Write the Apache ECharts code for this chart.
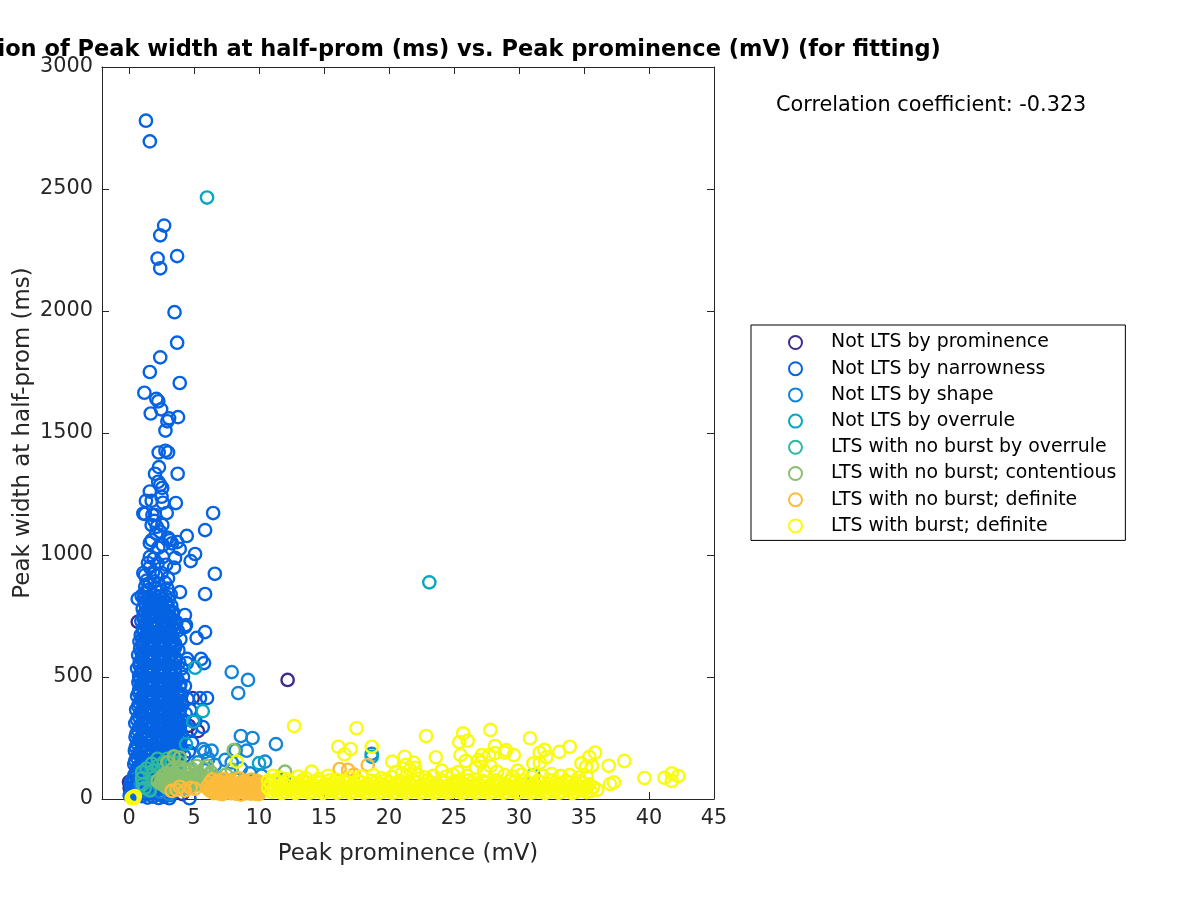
<!DOCTYPE html>
<html><head><meta charset="utf-8">
<style>html,body{margin:0;padding:0;background:#fff}#c{width:1200px;height:900px}</style>
<script src="https://cdn.jsdelivr.net/npm/echarts@6/dist/echarts.min.js"></script>
</head><body><div id="c"></div>
<script>
const xTickValues=[0,5,10,15,20,25,30,35,40,45];
const yTickValues=[0,500,1000,1500,2000,2500,3000];
const seriesNames=["Not LTS by prominence","Not LTS by narrowness","Not LTS by shape","Not LTS by overrule","LTS with no burst by overrule","LTS with no burst; contentious","LTS with no burst; definite","LTS with burst; definite"];
const seriesColors=["#3f2b8e","#0563e3","#1285d9","#07a6c4","#30b7a0","#88bf6e","#fcbc3c","#f9fb0e"];

const notLtsProminence=[[12.2,488],[0.67,726],[4.9,414],[5.3,278],[4.6,300],[0.05,45],[0,70],[0.1,25],[4.1,20]];

const notLtsNarrowness=[
[1.3,2780],[1.6,2695],[2.7,2350],[2.4,2310],[3.7,2225],[2.2,2215],[2.4,2175],[3.5,1995],[3.7,1870],[2.4,1810],[1.6,1750],[3.9,1705],
[1.18,1665],[2.1,1640],[2.25,1630],[2.47,1597],[1.67,1580],[3.08,1560],[3.77,1565],[2.95,1548],[2.8,1510],[2.28,1420],[2.8,1427],[3,1420],[2.3,1360],[2,1333],[3.74,1333],[2.24,1300],[2.4,1287],[2.55,1275],[1.6,1260],[2.5,1239],[1.3,1222],[1.74,1222],[2.6,1214],[3.6,1213],[1.1,1170],[1.23,1168],[2.9,1172],[1.8,1164],[2,1164],[6.47,1172],[5.85,1102],[1.74,1123],[2.13,1116],[2.56,1123],[2.1,1088],[2.4,1095],[1.95,1140],[4.44,1078],[3,1070],[3.7,1053],[3.9,1025],[1.6,1049],[1.74,1061],[2.6,1041],[3.15,1061],[3.3,1048],[2.25,1030],[5.08,1004],[4.74,975],[6.6,923],[5.85,840],[3.92,848],[3.46,948],[3.54,988],[2.6,992],[1.6,992],[1.46,967],[1.6,950],[2.5,926],[1.23,918],[1.1,926],[0.67,820],[0.97,832],
[1.9,985],[2.2,965],[2.85,960],[1.85,930],[2.1,915],[3,905],[1.35,895],[1.6,885],[1.95,892],[2.3,880],[2.75,888],[1.25,870],[1.55,858],[2.05,862],[2.5,855],[2.95,862],[3.2,838],[1.2,845],
[4.3,754],[4.38,713],[4.3,705],[5.2,660],[5.85,684],[3.8,610],[4.47,574],[5.54,574],[5.77,557],[4.44,557],[4.3,463],[5.46,414],[6,414],[4.7,365],[5.67,295],[5.1,320],[4.5,410],[4.85,230],[3.95,655],[3.65,725],[3.75,690],[3.85,560],[4.05,535],[4.15,500],[3.95,470],[4.05,430],[4.1,385],[4.35,350],[4.2,320],[4.75,285],
[1.15,825],[1.55,830],[1.95,835],[2.4,828],[2.8,832],[3.05,815],
[1.2,805],[1.62,800],[2.02,808],[2.45,798],[2.85,805],[3.25,792],
[1.05,780],[1.4,775],[1.82,782],[2.25,772],[2.66,779],[3.06,770],[3.4,765],
[1.12,752],[1.58,748],[2,755],[2.4,746],[2.82,752],[3.22,742],
[0.95,728],[1.32,722],[1.75,730],[2.18,720],[2.6,726],[3,718],[3.42,722],
[1.08,700],[1.5,695],[1.92,702],[2.35,692],[2.76,699],[3.18,690],[3.5,696],
[0.9,672],[1.28,668],[1.7,675],[2.12,665],[2.55,671],[2.96,663],[3.35,668],
[0.8,645],[1.05,640],[1.48,648],[1.9,638],[2.32,644],[2.74,636],[3.15,642],[3.55,635],
[0.85,618],[1.25,612],[1.68,620],[2.1,610],[2.52,616],[2.94,609],[3.35,614],
[0.7,590],[1.02,588],[1.45,593],[1.88,584],[2.3,589],[2.72,582],[3.14,587],[3.52,582],
[0.82,562],[1.22,558],[1.65,565],[2.08,556],[2.5,561],[2.92,554],[3.34,559],
[0.62,535],[1.0,532],[1.42,537],[1.85,528],[2.28,534],[2.7,526],[3.12,531],[3.55,526],
[0.78,506],[1.2,503],[1.62,509],[2.05,500],[2.48,505],[2.9,498],[3.32,503],
[0.72,478],[1.0,476],[1.42,481],[1.85,472],[2.25,477],[2.68,470],[3.1,475],[3.55,470],
[0.78,450],[1.2,447],[1.62,453],[2.02,444],[2.45,449],[2.88,442],[3.3,447],[3.7,440],
[0.62,422],[1,420],[1.42,425],[1.82,416],[2.25,421],[2.66,414],[3.08,419],[3.5,412],[3.85,418],
[0.78,394],[1.2,392],[1.6,397],[2.02,388],[2.45,393],[2.86,386],[3.28,391],[3.7,384],
[0.55,366],[0.98,364],[1.4,369],[1.82,360],[2.22,365],[2.65,358],[3.06,363],[3.5,356],[3.9,360],
[0.75,338],[1.18,336],[1.6,341],[2,332],[2.42,337],[2.85,330],[3.26,335],[3.7,328],
[0.48,310],[0.95,308],[1.38,313],[1.8,304],[2.2,309],[2.62,302],[3.05,307],[3.48,300],[3.88,305],
[0.7,282],[1.15,280],[1.58,285],[1.98,276],[2.4,281],[2.82,274],[3.25,279],[3.68,272],
[0.5,254],[0.92,252],[1.35,257],[1.78,248],[2.18,253],[2.6,246],[3.02,251],[3.45,244],[3.85,250],
[0.65,226],[1.12,224],[1.55,229],[1.95,220],[2.38,225],[2.8,218],[3.22,223],[3.65,216],
[0.45,198],[0.88,196],[1.32,201],[1.75,192],[2.15,197],[2.58,190],[3,195],[3.42,188],[3.8,194],
[0.6,170],[1.08,168],[1.52,173],[1.92,164],[2.35,169],[2.78,162],[3.2,167],[3.6,160],
[0.4,142],[0.85,140],[1.28,145],[1.72,136],[2.12,141],[2.55,134],[2.98,139],[3.4,132],
[0.55,114],[1.05,112],[1.48,117],[1.9,108],[2.32,113],[2.75,106],[3.18,111],
[0.35,86],[0.8,84],[1.25,89],[1.68,80],[2.1,85],[2.52,78],[2.95,83],[3.38,76],
[0.12,62],[0.55,60],[1,58],[1.45,63],[1.88,54],[2.3,59],[2.72,52],[3.15,57],
[0.3,36],[0.75,34],[1.22,38],[1.65,29],[2.08,34],[2.5,27],[2.92,32],[3.3,25],
[0.05,14],[0.5,10],[0.98,12],[1.42,6],[1.85,10],[2.28,4],[2.7,9],[3.1,3],[4.65,3],
[3.9,290],[4,265],[3.95,205],[4.25,175],[4.6,195],
[1.38,816],[1.78,820],[2.22,814],[2.62,818],
[1.3,790],[1.72,793],[2.15,787],[2.55,791],[2.98,785],
[1.22,763],[1.62,766],[2.05,760],[2.48,764],[2.9,758],[3.3,760],
[1.15,736],[1.55,739],[1.98,733],[2.4,737],[2.8,731],[3.22,733],
[1.28,709],[1.7,712],[2.12,706],[2.55,710],[2.98,704],[3.35,707],
[1.1,682],[1.5,685],[1.92,679],[2.35,683],[2.76,677],[3.18,680],
[1.02,655],[1.28,658],[1.7,652],[2.12,656],[2.52,650],[2.95,653],[3.35,650],
[1.05,628],[1.47,631],[1.9,625],[2.3,629],[2.72,623],[3.15,626],[3.55,622],
[0.95,601],[1.25,604],[1.68,598],[2.08,602],[2.5,596],[2.92,599],[3.35,596],
[0.98,574],[1.42,577],[1.85,571],[2.28,575],[2.7,569],[3.12,572],[3.55,569],
[0.82,547],[1.2,550],[1.62,544],[2.05,548],[2.48,542],[2.9,545],[3.32,542],
[0.95,520],[1.4,523],[1.82,517],[2.25,521],[2.68,515],[3.1,518],[3.55,514],
[0.8,493],[1.2,496],[1.62,490],[2.05,494],[2.46,488],[2.88,491],[3.3,488],[3.72,490],
[0.95,465],[1.4,468],[1.82,462],[2.22,466],[2.65,460],[3.08,463],[3.5,460],[3.88,462],
[0.75,437],[1.2,440],[1.6,434],[2.02,438],[2.45,432],[2.86,435],[3.28,432],[3.7,430],
[0.92,409],[1.38,412],[1.8,406],[2.22,410],[2.62,404],[3.05,407],[3.48,404],[3.9,402],
[0.7,381],[1.15,384],[1.58,378],[2,382],[2.42,376],[2.82,379],[3.25,376],[3.68,374],
[0.88,353],[1.35,356],[1.78,350],[2.18,354],[2.6,348],[3.02,351],[3.45,348],[3.85,346],
[0.62,325],[1.12,328],[1.55,322],[1.98,326],[2.38,320],[2.8,323],[3.22,320],[3.65,318],[4.05,322],
[0.82,297],[1.32,300],[1.75,294],[2.18,298],[2.58,292],[3,295],[3.42,292],[3.85,290],
[0.58,269],[1.1,272],[1.52,266],[1.95,270],[2.35,264],[2.78,267],[3.2,264],[3.62,262],[4.02,268],
[0.75,241],[1.3,244],[1.72,238],[2.15,242],[2.55,236],[2.98,239],[3.4,236],[3.82,234],
[0.52,213],[1.05,216],[1.48,210],[1.92,214],[2.32,208],[2.75,211],[3.18,208],[3.6,206],
[0.7,185],[1.25,188],[1.7,182],[2.1,186],[2.52,180],[2.95,183],[3.38,180],[3.8,178],
[0.48,157],[1.02,160],[1.45,154],[1.88,158],[2.3,152],[2.72,155],[3.15,152],[3.55,150],
[0.65,128],[1.22,131],[1.68,125],[2.08,129],[2.5,123],[2.92,126],[3.35,123],
[0.42,100],[1,103],[1.45,97],[1.85,101],[2.28,95],[2.7,98],[3.12,95],
[0.2,75],[0.6,72],[1.02,75],[1.65,70],[2.05,74],[2.48,68],[2.9,71],[3.3,68],
[0.35,48],[0.78,46],[1.22,49],[1.65,44],[2.08,47],[2.5,42],[2.92,45],[3.35,42],
[0.12,24],[0.55,22],[1,25],[1.42,20],[1.88,23],[2.3,18],[2.72,21],[3.15,16]
];

const notLtsShape=[[7.9,520],[9.15,488],[8.4,434],[8.6,258],[9.5,250],[9.05,198],[11.3,225],[10.46,153],[5.7,204],[6.35,198],[5.85,193],[7.4,160],[18.67,185],[8.2,200],[7.9,150],[6.1,165],[5.3,150],[6.6,140],[8.6,125],[9.3,105],[10.2,95],[11.9,80],[4.6,120],[1.1,100],[0.9,60],[1.6,45],[2.4,30],[3.1,20]];
const notLtsOverrule=[[6,2465],[23.1,888],[5.08,538],[5.67,360],[4.93,317],[4.38,225],[10,147],[18.67,173],[31.1,98],[9.6,75],[2,70],[2.7,95],[1.6,105]];
const ltsNoBurstOverrule=[
[1,110],[1.35,125],[1,85],[1.75,145],[2.2,165],[1.05,60],[1.85,115],[2.2,135],[1.2,45],[1.85,85],[2.65,150],[2.55,120],[2.95,165],[1.6,35],[2.5,85],[3.3,155],[3,100],[3.45,170],[3.9,150],[3.95,105]
];
const ltsNoBurstContentious=[
[3.45,175],[2.95,150],[3.9,130],[3.3,120],[2.85,85],[2.55,60],[3.3,85],[3.75,95],[4.2,120],[2.6,95],[3.1,60],[3.6,65],[4.05,80],[4.5,100],[4.8,125],[3,45],[3.5,45],[4,55],[4.5,65],[5,85],[5.35,105],[5.8,125],[4.5,45],[5,55],[5.4,70],[5.85,90],[6.3,110],[6.7,85],[5.9,60],[6.4,65],[7,70],[7.45,100],[7.9,120],[8.2,85],[7.7,65],[8.7,70],[9.2,60],[8.05,200],[12,112],[6,135],[5.2,135],[3.9,170],[2.4,65],[2.2,75],
[2.55,78],[2.8,68],[2.85,105],[3.05,75],[3.1,100],[3.35,70],[3.5,105],[3.6,80],[3.85,68],[3.95,112],[4.25,90],[4.3,72],[4.55,82],[4.65,115],[4.8,55],[4.85,72],[5.1,100],[5.2,62],[5.6,82],[5.7,55],[6.05,78],[6.15,100],[6.6,70],[6.95,85],[7.25,78],[3.25,55],[2.8,50],[3.75,52],[4.25,48]
];
const ltsNoBurstDefinite=[
[3.28,33],[3.9,50],[4.75,46],[3.65,38],[4.3,35],[5.05,42],[16.2,123],[16.85,119],[18.36,139],[17.3,100],
[6.2,65],[6.6,58],[7,68],[7.45,60],[7.85,70],[8.3,62],[8.75,68],[9.2,60],[9.6,66],[10.05,60],
[6,48],[6.42,42],[6.85,50],[7.25,44],[7.68,52],[8.1,45],[8.55,51],[9,44],[9.42,50],[9.85,45],[10.2,50],
[6.3,33],[6.7,28],[7.1,35],[7.55,29],[7.95,36],[8.4,30],[8.85,35],[9.3,29],[9.7,34],[10.1,32],
[7.2,20],[7.85,24],[8.6,18],[9.35,22],[10,20],[6.4,80],[7.3,82],[8.5,85],[9.4,80],
[6.4,55],[6.8,62],[7.25,54],[7.65,62],[8.1,55],[8.55,60],[8.95,55],[9.4,59],[9.85,55],[10.2,66],
[6.15,38],[6.6,36],[7,42],[7.45,37],[7.85,43],[8.3,38],[8.75,43],[9.15,37],[9.6,42],[10.05,39],
[6.5,24],[6.95,22],[7.4,25],[8.2,22],[9,24],[9.7,22],[6.85,74],[7.75,76],[8.9,74],[9.85,74]
];
const ltsBurstDefinite=[
[12.7,299],[17.5,290],[16.1,214],[17.05,205],[16.57,183],[18.67,214],[20.25,153],[8.28,153],[14.05,112],[20.5,110],[22.85,258],[25.7,269],[25.4,233],[26.05,239],[27.8,283],[30.85,249],[28.15,217],[29,200],[28.9,190],[29.6,180],[21.2,173],[23.6,171],[25.5,180],[25.9,156],[21.9,149],[27.13,180],[27.7,180],[28.15,188],[33.9,214],[33.1,193],[31.95,201],[31.6,190],[32.1,172],[31.1,146],[31.6,149],[35.85,190],[35.4,172],[34.8,146],[35.6,136],[35.15,132],[36.9,136],[38.1,156],[39.65,86],[41.2,87],[41.75,105],[42.25,94],[41.75,74],[37,61],[37.3,68],[29.9,116],[24.05,116],[24.9,100],
[0.3,8],[0.2,4],[0.45,12],[0.4,3],
[10.7,75],[11.1,95],[11.6,88],[12.2,80],[13,92],[13.6,85],[14.6,82],[15.3,95],[16,78],[17,88],[17.9,92],[18.8,98],[19.4,85],[20.2,90],[21,105],[21.6,120],[22.2,100],[22.8,88],[23.4,95],[24.4,92],[25.3,110],[26,96],[26.7,128],[27.3,115],[27.8,135],[28.3,112],[28.9,98],[29.5,92],[30.2,100],[31,90],[31.8,96],[32.5,102],[33.2,94],[33.9,98],[34.6,88],[35.2,90],[27.1,150],[26.9,160],[22,128],[21.3,140],
[10.9,62],[11.45,68],[12,60],[12.5,67],[13.05,61],[13.6,68],[14.1,60],[14.65,67],[15.2,61],[15.7,68],[16.25,60],[16.8,67],[17.3,61],[17.85,68],[18.4,60],[18.9,67],[19.45,61],[20,68],[20.5,60],[21.05,67],[21.6,61],[22.1,68],[22.65,60],[23.2,67],[23.7,61],[24.25,68],[24.8,60],[25.3,67],[25.85,61],[26.4,68],[26.9,60],[27.45,67],[28,61],[28.5,68],[29.05,60],[29.6,67],[30.1,61],[30.65,68],[31.2,60],[31.7,67],[32.25,61],[32.8,68],[33.3,60],[33.85,67],[34.4,61],[34.9,66],[35.4,60],
[10.7,45],[11.2,50],[11.75,44],[12.25,51],[12.8,45],[13.35,50],[13.85,44],[14.4,51],[14.95,45],[15.45,50],[16,44],[16.55,51],[17.05,45],[17.6,50],[18.15,44],[18.65,51],[19.2,45],[19.75,50],[20.25,44],[20.8,51],[21.35,45],[21.85,50],[22.4,44],[22.95,51],[23.45,45],[24,50],[24.55,44],[25.05,51],[25.6,45],[26.15,50],[26.65,44],[27.2,51],[27.75,45],[28.25,50],[28.8,44],[29.35,51],[29.85,45],[30.4,50],[30.95,44],[31.45,51],[32,45],[32.55,50],[33.05,44],[33.6,51],[34.15,45],[34.65,50],[35.2,44],[35.7,48],
[10.95,30],[11.45,35],[12,29],[12.5,36],[13.05,30],[13.6,35],[14.1,29],[14.65,36],[15.2,30],[15.7,35],[16.25,29],[16.8,36],[17.3,30],[17.85,35],[18.4,29],[18.9,36],[19.45,30],[20,35],[20.5,29],[21.05,36],[21.6,30],[22.1,35],[22.65,29],[23.2,36],[23.7,30],[24.25,35],[24.8,29],[25.3,36],[25.85,30],[26.4,35],[26.9,29],[27.45,36],[28,30],[28.5,35],[29.05,29],[29.6,36],[30.1,30],[30.65,35],[31.2,29],[31.7,36],[32.25,30],[32.8,35],[33.3,29],[33.85,36],[34.4,30],[34.9,35],[35.5,32],[36,38],
[11.2,76],[11.75,54],[12.25,74],[12.8,55],[13.3,76],[13.85,54],[14.4,74],[14.9,55],[15.45,76],[16,54],[16.5,74],[17.05,55],[17.6,76],[18.1,54],[18.65,74],[19.2,55],[19.7,76],[20.25,54],[20.8,74],[21.3,55],[21.85,76],[22.4,54],[22.9,74],[23.45,55],[24,76],[24.5,54],[25.05,74],[25.6,55],[26.1,76],[26.65,54],[27.2,74],[27.7,55],[28.25,76],[28.8,54],[29.3,74],[29.85,55],[30.4,76],[30.9,54],[31.45,74],[32,55],[32.5,76],[33.05,54],[33.6,74],[34.1,55],[34.65,72],[35.2,54],
[11.2,38],[11.75,24],[12.25,40],[12.8,24],[13.3,38],[13.85,25],[14.4,40],[14.9,24],[15.45,38],[16,25],[16.5,40],[17.05,24],[17.6,38],[18.1,25],[18.65,40],[19.2,24],[19.7,38],[20.25,25],[20.8,40],[21.3,24],[21.85,38],[22.4,25],[22.9,40],[23.45,24],[24,38],[24.5,25],[25.05,40],[25.6,24],[26.1,38],[26.65,25],[27.2,40],[27.7,24],[28.25,38],[28.8,25],[29.3,40],[29.85,24],[30.4,38],[30.9,25],[31.45,40],[32,24],[32.5,38],[33.05,25],[33.6,40],[34.1,24],[34.65,38],[35.2,28]
];
const allData=[notLtsProminence,notLtsNarrowness,notLtsShape,notLtsOverrule,ltsNoBurstOverrule,ltsNoBurstContentious,ltsNoBurstDefinite,ltsBurstDefinite];
const titleText="Distribution of Peak width at half-prom (ms) vs. Peak prominence (mV) (for fitting)";
const xName="Peak prominence (mV)";
const yName="Peak width at half-prom (ms)";
const corrText="Correlation coefficient: -0.323";

const font="'DejaVu Sans'";
const ink="#262626";
const chart=echarts.init(document.getElementById('c'),null,{renderer:'canvas'});
const baseX={type:'value',min:-2.08,max:45,splitLine:{show:false}};
const line={show:true,onZero:false,lineStyle:{color:ink,width:1}};
chart.setOption({
 animation:false,backgroundColor:'#fff',
 title:[
  {text:titleText,left:408,top:34,textAlign:'center',textStyle:{fontFamily:font,fontSize:22.5,fontWeight:'bold',color:'#000'}},
  {text:corrText,left:771,top:90,textStyle:{fontFamily:font,fontSize:20.8,fontWeight:'normal',color:'#000'}}
 ],
 grid:{left:102,top:67,width:612,height:732,containLabel:false,outerBoundsMode:'none'},
 legend:{
  orient:'vertical',left:751,top:325,padding:[8,9,5,37],itemWidth:13,itemHeight:13,itemGap:7.2,
  icon:'circle',borderColor:'#000',borderWidth:1,backgroundColor:'#fff',
  itemStyle:{borderWidth:2},
  textStyle:{fontFamily:font,fontSize:18.9,color:'#000',padding:[0,0,0,24],lineHeight:18.5},
  data:seriesNames
 },
 xAxis:[
  {...baseX,position:'bottom',name:xName,nameLocation:'middle',nameGap:44,nameMoveOverlap:false,nameTextStyle:{fontFamily:font,fontSize:22.9,color:ink},
   axisLine:line,axisTick:{show:true,inside:true,length:7,customValues:xTickValues,lineStyle:{color:ink}},
   axisLabel:{show:true,margin:9,customValues:xTickValues,fontFamily:font,fontSize:20.8,color:ink,formatter:v=>String(v)}},
  {...baseX,position:'top',axisLine:line,axisTick:{show:true,inside:true,length:7,customValues:xTickValues,lineStyle:{color:ink}},axisLabel:{show:false}}
 ],
 yAxis:[
  {type:'value',min:0,max:3000,interval:500,position:'left',splitLine:{show:false},name:yName,nameLocation:'middle',nameGap:67,nameMoveOverlap:false,nameTextStyle:{fontFamily:font,fontSize:22.9,color:ink},
   axisLine:line,axisTick:{show:true,inside:true,length:7,lineStyle:{color:ink}},
   axisLabel:{margin:9,fontFamily:font,fontSize:20.8,color:ink,customValues:yTickValues,formatter:v=>String(v)}},
  {type:'value',min:0,max:3000,interval:500,position:'right',splitLine:{show:false},
   axisLine:line,axisTick:{show:true,inside:true,length:7,lineStyle:{color:ink}},axisLabel:{show:false}}
 ],
 series:seriesNames.map((n,i)=>({
  name:n,type:'scatter',data:allData[i],symbol:'circle',symbolSize:12.3,clip:false,silent:true,
  itemStyle:{color:'rgba(255,255,255,0)',borderColor:seriesColors[i],borderWidth:2.4,opacity:1}
 }))
});
</script></body></html>
